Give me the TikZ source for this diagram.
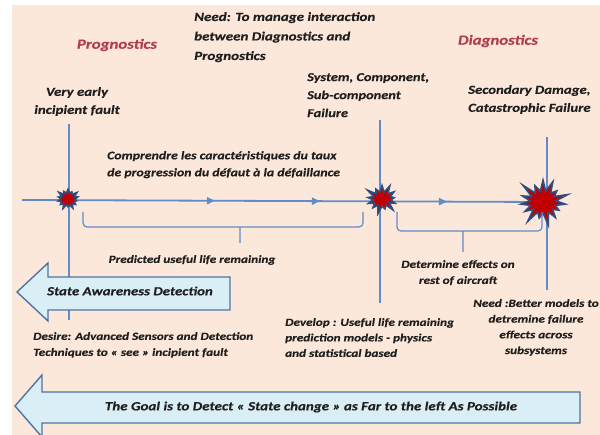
\documentclass[tikz,border=0pt]{standalone}
\usepackage{fontspec}
\setmainfont{Carlito}[FakeStretch=1.2,FakeBold=0.4]
\usetikzlibrary{arrows.meta,decorations.markings,shapes.symbols,backgrounds}
\definecolor{peach}{RGB}{252,232,218}
\definecolor{lineblue}{RGB}{98,140,198}
\definecolor{boxblue}{RGB}{218,238,245}
\definecolor{edgeblue}{RGB}{78,116,166}
\definecolor{headred}{RGB}{176,62,78}
\definecolor{burstred}{RGB}{192,0,0}
\definecolor{burstedge}{RGB}{48,78,128}

\begin{document}
\begin{tikzpicture}[x=1pt,y=-1pt,
  lbl/.style={font=\bfseries\itshape\fontsize{11}{17}\selectfont,text=black!88,inner sep=0pt},
  head/.style={font=\bfseries\itshape\fontsize{14}{16}\selectfont,text=headred,inner sep=0pt},
  burst/.style={starburst,draw=burstedge,fill=burstred,line width=1.6pt,inner sep=0pt},
  tl/.style={lineblue,line width=1.8pt},
  brace/.style={lineblue,line width=1.2pt,rounded corners=4pt},
  blockarrow/.style={fill=boxblue,draw=edgeblue,line width=1.4pt,line join=miter}]
\useasboundingbox (0,0) rectangle (600,435);
\node[burst,minimum width=24pt,minimum height=22pt,starburst point height=5pt,starburst points=14] (early) at (68,199) {};
\node[burst,minimum width=36pt,minimum height=32pt,starburst point height=9pt,starburst points=13] (fail) at (382,199) {};
\node[burst,minimum width=56pt,minimum height=52pt,starburst point height=15pt,starburst points=15] (cata) at (543,202) {};
\begin{scope}[on background layer]
\fill[peach] (12,5) rectangle (600,435);
\coordinate (tlstart) at (22,200);
\coordinate (v1top) at (69,124);
\coordinate (v1bot) at (69,320);
\coordinate (v2top) at (380,120);
\coordinate (v2bot) at (380,303);
\coordinate (v3top) at (547,137);
\coordinate (v3bot) at (547,290);
\draw[tl] (v1top) -- (v1bot);
\draw[tl] (v2top) -- (v2bot);
\draw[tl] (v3top) -- (v3bot);
\draw[tl,decoration={markings,
  mark=at position 193pt with {\arrow{Triangle[length=8pt,width=7pt]}},
  mark=at position 298pt with {\arrow{Triangle[length=8pt,width=7pt]}},
  mark=at position 425pt with {\arrow{Triangle[length=8pt,width=7pt]}}},postaction={decorate}]
  (tlstart) -- (cata.center);
\end{scope}
\draw[brace] (83,212) -- (83,227) -- (363,227) -- (363,212) (240,227) -- (240,243);
\draw[brace] (397,212) -- (397,231) -- (542,231) -- (542,212) (463,231) -- (463,252);
\filldraw[blockarrow] (17,292) -- (48,263) -- (48,277) -- (230,277) -- (230,310) -- (48,310) -- (48,321) -- cycle;
\filldraw[blockarrow] (15,406) -- (42,375) -- (42,392) -- (580,392) -- (580,423) -- (42,423) -- (42,437) -- cycle;
\node[head] (prog) at (117,45) {Prognostics};
\node[head] (diag) at (498,41) {Diagnostics};
\node[lbl,font=\bfseries\itshape\fontsize{12.5}{19.5}\selectfont,anchor=north west,align=left] (needtop) at (194,12) {Need: To manage interaction\\between Diagnostics and\\Prognostics};
\node[lbl,font=\bfseries\itshape\fontsize{12.4}{18}\selectfont,anchor=north,align=center] (earlytxt) at (77,87) {Very early\\incipient fault};
\node[lbl,font=\bfseries\itshape\fontsize{12}{18}\selectfont,anchor=north west,align=left] (failtxt) at (307,73) {System, Component,\\Sub-component\\Failure};
\node[lbl,font=\bfseries\itshape\fontsize{12.3}{18}\selectfont,anchor=north west,align=left] (catatxt) at (468,85) {Secondary Damage,\\Catastrophic Failure};
\node[lbl,font=\bfseries\itshape\fontsize{11.5}{17}\selectfont,anchor=north west,align=left] (comp) at (107,151) {Comprendre les caractéristiques du taux\\de progression du défaut à la défaillance};
\node[lbl] (pulr) at (192,260) {Predicted useful life remaining};
\node[lbl,font=\bfseries\itshape\fontsize{11}{16}\selectfont,anchor=north,align=center] (effects) at (458,260) {Determine effects on\\rest of aircraft};
\node[lbl,font=\bfseries\itshape\fontsize{12.4}{15}\selectfont] (saware) at (130,291) {State Awareness Detection};
\node[lbl,anchor=north west,align=left,font=\bfseries\itshape\fontsize{11}{16}\selectfont] (desire) at (33,332) {Desire: Advanced Sensors and Detection\\Techniques to « see » incipient\ fault};
\node[lbl,font=\bfseries\itshape\fontsize{11}{15.5}\selectfont,anchor=north west,align=left] (develop) at (285,318) {Develop : Useful life remaining\\prediction models\ - physics\\and statistical based};
\node[lbl,font=\bfseries\itshape\fontsize{11}{15.7}\selectfont,anchor=north,align=center] (needbot) at (536,299) {Need :Better models to\\detremine failure\\effects across\\subsystems};
\node[lbl,font=\bfseries\itshape\fontsize{12.5}{15}\selectfont] (goal) at (311,407) {The Goal\ is to Detect « State change\ » as Far\ to the left As Possible};
\end{tikzpicture}
\end{document}
